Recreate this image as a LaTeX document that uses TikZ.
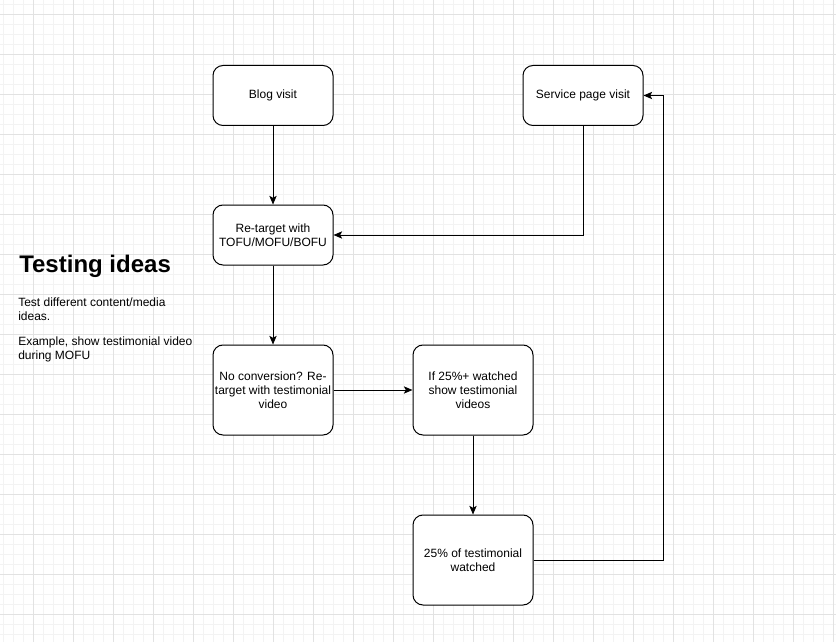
\documentclass[tikz,border=0pt]{standalone}
\usepackage{fontspec}
\setmainfont{Liberation Sans}
\usetikzlibrary{arrows.meta}
\definecolor{gridminor}{HTML}{F3F3F3}
\definecolor{gridmajor}{HTML}{E2E2E2}
\tikzset{
  box/.style={draw=black, line width=0.75pt, rounded corners=7.5pt, fill=white,
    minimum width=90pt, minimum height=#1, align=center, inner sep=1pt,
    font=\fontsize{9pt}{10.5pt}\selectfont},
  box/.default=45pt,
  conn/.style={line width=0.75pt, -{Stealth[length=6.5pt,width=5.5pt,inset=1.5pt]}},
}
\begin{document}
\begin{tikzpicture}[x=0.75pt,y=-0.75pt]
\useasboundingbox (0,0) rectangle (836,642);
\fill[white] (0,0) rectangle (836,642);
% grid
\foreach \i in {0,...,83} {\draw[gridminor, line width=0.75pt] (3.3+10*\i,0) -- (3.3+10*\i,642);}
\foreach \i in {0,...,64} {\draw[gridminor, line width=0.75pt] (0,4.3+10*\i) -- (836,4.3+10*\i);}
\foreach \i in {0,...,20} {\draw[gridmajor, line width=0.75pt] (33.3+40*\i,0) -- (33.3+40*\i,642);}
\foreach \i in {0,...,16} {\draw[gridmajor, line width=0.75pt] (0,14.3+40*\i) -- (836,14.3+40*\i);}

% nodes
\node[box] (blog) at (273,95.5) {Blog visit};
\node[box] (service) at (583,95.5) {Service page visit};
\node[box] (retarget) at (273,235) {Re-target with\\TOFU/MOFU/BOFU};
\path (273,390) node[box=67.5pt] (noconv) {No conversion? Re-\\target with testimonial\\video};
\node[box=67.5pt] (if25) at (473,390) {If 25\%+ watched\\show testimonial\\videos};
\node[box=67.5pt] (watched) at (473,560) {25\% of testimonial\\watched};

% left text
\node[anchor=base west, inner sep=0pt, font=\fontsize{18pt}{21pt}\selectfont\bfseries] (title) at (19,272) {Testing ideas};
\node[anchor=base west, inner sep=0pt, align=left, font=\fontsize{9pt}{10.5pt}\selectfont] (body1) at (18,320) {Test different content/media\\ideas.};
\node[anchor=base west, inner sep=0pt, align=left, font=\fontsize{9pt}{10.5pt}\selectfont] (body2) at (18,359) {Example, show testimonial video\\during MOFU};

% connectors
\draw[conn] (blog) -- (retarget);
\draw[conn] (service.south) |- (retarget.east);
\draw[conn] (retarget) -- (noconv);
\draw[conn] (noconv) -- (if25);
\draw[conn] (if25) -- (watched);
\coordinate (rt) at (663,560);
\draw[conn] (watched.east) -- (rt) |- (service.east);
\end{tikzpicture}
\end{document}
